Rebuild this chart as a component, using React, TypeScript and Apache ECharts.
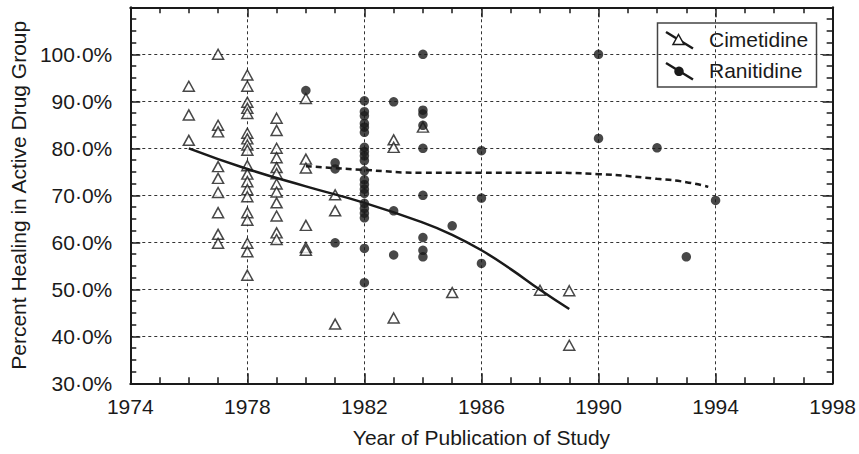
import React, { useEffect, useRef } from "react";
import * as echarts from "echarts";

const BASE_YEAR = 1974;
const X_MAX_YEAR = 1998;

// Cimetidine studies: [year, healing % values]
const cimetidine: [number, number[]][] = [
  [1976, [93.2, 87.1, 81.7]],
  [1977, [100, 84.9, 83.5, 76.1, 73.6, 70.6, 66.3, 61.7, 59.8]],
  [1978, [95.6, 93.2, 89.8, 88.5, 87.4, 83.2, 82.0, 80.7, 79.6, 76.3, 74.5, 72.9, 71.2, 69.7, 66.3, 64.7, 59.8, 58.0, 53.0]],
  [1979, [86.4, 83.8, 80.0, 78.0, 75.9, 74.6, 72.4, 70.7, 68.4, 65.6, 62.0, 60.6]],
  [1980, [90.6, 77.7, 75.8, 63.6, 58.9, 58.3]],
  [1981, [70.1, 66.7, 42.6]],
  [1983, [81.8, 80.2, 43.9]],
  [1984, [84.5]],
  [1985, [49.3]],
  [1988, [49.8]],
  [1989, [49.7, 38.1]],
];

// Ranitidine studies: [year, healing % values]
const ranitidine: [number, number[]][] = [
  [1980, [92.3]],
  [1981, [76.9, 75.6, 59.9]],
  [1982, [90.1, 87.8, 86.9, 85.3, 84.5, 83.4, 80.2, 79.3, 78.4, 77.4, 75.2, 73.3, 72.3, 71.3, 70.4, 68.3, 67.2, 66.2, 65.2, 58.7, 51.4]],
  [1983, [89.9, 66.7, 57.3]],
  [1984, [100, 88.1, 87.3, 84.9, 80.0, 70.0, 61.0, 58.3, 56.9]],
  [1985, [63.5]],
  [1986, [79.5, 69.4, 55.5]],
  [1990, [100, 82.1]],
  [1992, [80.1]],
  [1993, [56.9]],
  [1994, [68.9]],
];

// Fitted trend curves: [year, %]
const cimetidineFitYears = [1976, 1978, 1980, 1982, 1984, 1985, 1986, 1987, 1988, 1989];
const cimetidineFitValues = [80.0, 75.6, 71.9, 68.4, 64.2, 61.6, 58.3, 54.3, 49.9, 45.8];
const ranitidineFitYears = [1980, 1982, 1984, 1986, 1988, 1990, 1992, 1993, 1993.75];
const ranitidineFitValues = [76.2, 75.4, 74.8, 74.8, 74.8, 74.5, 73.5, 72.8, 71.8];

const legendLabels = ["Cimetidine", "Ranitidine"];
const xAxisTitle = "Year of Publication of Study";
const yAxisTitle = "Percent Healing in Active Drug Group";

const FONT = '"Liberation Sans", Arial, Helvetica, sans-serif';
const FS = 21;
const INK = "#1a1a1a";

function flatten(groups: [number, number[]][]) {
  const out: number[][] = [];
  groups.forEach(([yr, vals]) => vals.forEach((v) => out.push([yr - BASE_YEAR, v])));
  return out;
}

function pairs(xs: number[], ys: number[]) {
  return xs.map((x, i) => [x - BASE_YEAR, ys[i]]);
}

export default function App() {
  const ref = useRef<HTMLDivElement>(null);
  useEffect(() => {
    document.body.style.margin = "0";
    if (!ref.current) return;
    const chart = echarts.init(ref.current, undefined, { renderer: "svg" });

    const tickStyle = { color: INK, width: 1.5 };
    const xCommon = {
      type: "value" as const,
      min: 0,
      max: X_MAX_YEAR - BASE_YEAR,
      interval: 4,
      axisLine: { show: true, onZero: false, lineStyle: { color: INK, width: 2 } },
      axisTick: { show: true, inside: true, length: 10, lineStyle: tickStyle },
      minorTick: { show: true, splitNumber: 4, length: 6, lineStyle: tickStyle },
    };
    const yCommon = {
      type: "value" as const,
      min: 30,
      max: 110,
      interval: 10,
      axisLine: { show: true, onZero: false, lineStyle: { color: INK, width: 2 } },
      axisTick: { show: true, inside: true, length: 10, lineStyle: tickStyle },
      minorTick: { show: true, splitNumber: 4, length: 6, lineStyle: tickStyle },
    };
    const gridLine = { show: true, lineStyle: { color: "#333", width: 1, type: [3, 3] as number[] } };

    const option: any = {
      animation: false,
      backgroundColor: "#fff",
      grid: { left: 127.5, right: 26, top: 7.3, bottom: 70.7, containLabel: false },
      xAxis: [
        {
          ...xCommon,
          position: "bottom",
          name: xAxisTitle,
          nameLocation: "middle",
          nameGap: 44,
          nameTextStyle: { fontFamily: FONT, fontSize: FS, color: INK },
          axisLabel: {
            show: true,
            margin: 13,
            fontFamily: FONT,
            fontSize: FS,
            color: INK,
            formatter: (v: number) => String(v + BASE_YEAR),
          },
          splitLine: gridLine,
        },
        {
          ...xCommon,
          position: "top",
          axisLabel: { show: false },
          splitLine: { show: false },
        },
      ],
      yAxis: [
        {
          ...yCommon,
          position: "left",
          name: yAxisTitle,
          nameLocation: "middle",
          nameGap: 99,
          nameTextStyle: { fontFamily: FONT, fontSize: FS, color: INK },
          axisLabel: {
            show: true,
            margin: 18,
            fontFamily: FONT,
            fontSize: FS,
            color: INK,
            formatter: (v: number) => (v > 100 ? "" : v.toFixed(1).replace(".", "\u00B7") + "%"),
          },
          splitLine: gridLine,
        },
        {
          ...yCommon,
          position: "right",
          axisLabel: { show: false },
          splitLine: { show: false },
        },
      ],
      series: [
        {
          name: legendLabels[0],
          type: "scatter",
          xAxisIndex: 0,
          yAxisIndex: 0,
          symbol: "triangle",
          symbolSize: [11, 10],
          itemStyle: { color: "#fff", borderColor: INK, borderWidth: 1.5 },
          data: flatten(cimetidine),
          z: 3,
        },
        {
          name: legendLabels[1],
          type: "scatter",
          xAxisIndex: 0,
          yAxisIndex: 0,
          symbol: "circle",
          symbolSize: 9.5,
          itemStyle: { color: INK },
          data: flatten(ranitidine),
          z: 4,
        },
        {
          name: legendLabels[0] + " fit",
          type: "line",
          xAxisIndex: 0,
          yAxisIndex: 0,
          smooth: true,
          showSymbol: false,
          symbol: "none",
          lineStyle: { color: INK, width: 2.5 },
          data: pairs(cimetidineFitYears, cimetidineFitValues),
          z: 5,
        },
        {
          name: legendLabels[1] + " fit",
          type: "line",
          xAxisIndex: 0,
          yAxisIndex: 0,
          smooth: true,
          showSymbol: false,
          symbol: "none",
          lineStyle: { color: INK, width: 2.5, type: [6, 4] },
          data: pairs(ranitidineFitYears, ranitidineFitValues),
          z: 5,
        },
      ],
      graphic: [
        {
          type: "group",
          z: 100,
          children: [
            {
              type: "rect",
              shape: { x: 657.5, y: 23, width: 159, height: 64 },
              style: { fill: "#fff", stroke: "#444", lineWidth: 1.5 },
            },
            {
              type: "line",
              shape: { x1: 666, y1: 32, x2: 693, y2: 48.5 },
              style: { stroke: INK, lineWidth: 2.5 },
            },
            {
              type: "polygon",
              shape: { points: [[678.5, 34.5], [684, 44.5], [673, 44.5]] },
              style: { fill: "#fff", stroke: INK, lineWidth: 1.5 },
            },
            {
              type: "text",
              style: {
                text: legendLabels[0],
                x: 709,
                y: 39,
                font: `${FS}px ${FONT}`,
                fill: INK,
                verticalAlign: "middle",
              },
            },
            {
              type: "line",
              shape: { x1: 666, y1: 63, x2: 693, y2: 79.5 },
              style: { stroke: INK, lineWidth: 2.5 },
            },
            {
              type: "circle",
              shape: { cx: 679, cy: 71.3, r: 4.75 },
              style: { fill: INK },
            },
            {
              type: "text",
              style: {
                text: legendLabels[1],
                x: 709,
                y: 70,
                font: `${FS}px ${FONT}`,
                fill: INK,
                verticalAlign: "middle",
              },
            },
          ],
        },
      ],
    };
    chart.setOption(option);
    return () => chart.dispose();
  }, []);
  return (
    <div
      ref={ref}
      style={{ position: "fixed", left: 0, top: 0, width: 859, height: 454, background: "#fff" }}
    />
  );
}
